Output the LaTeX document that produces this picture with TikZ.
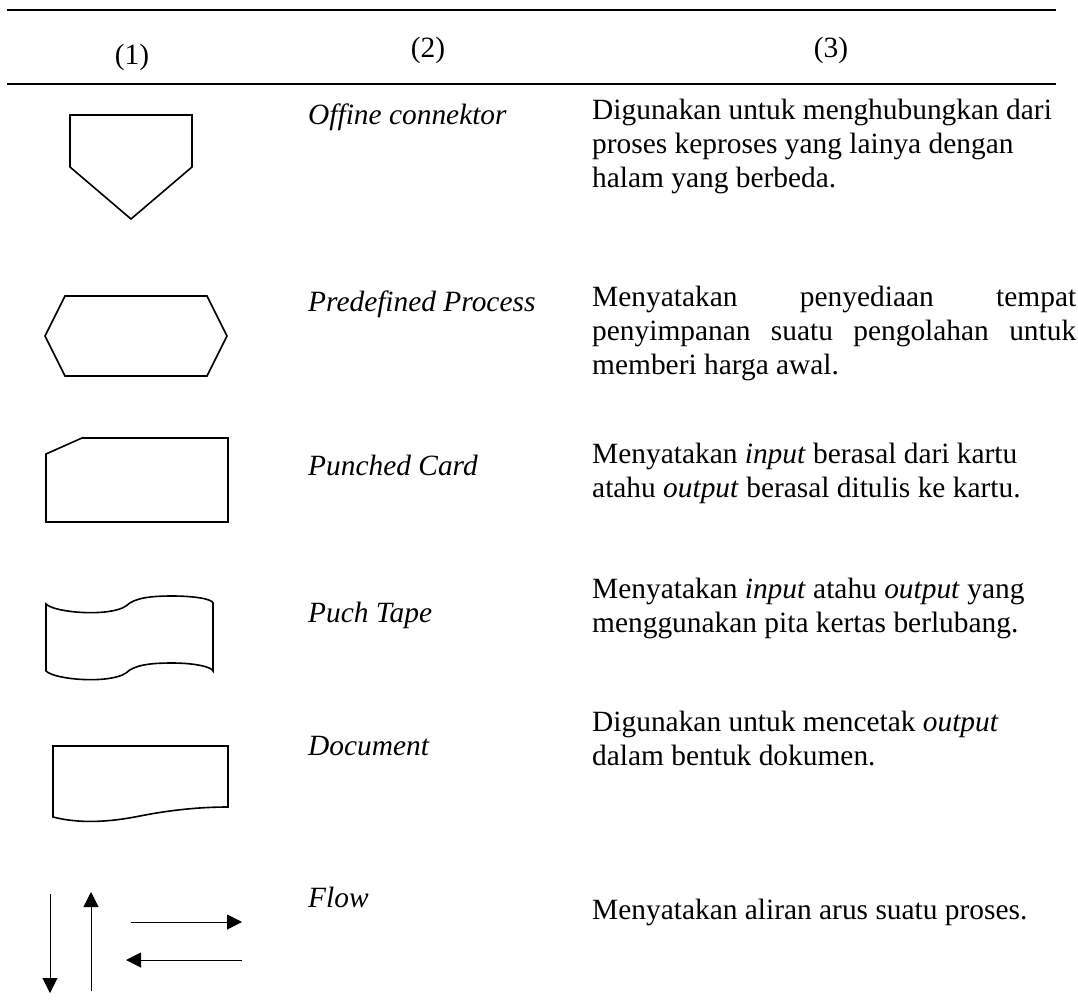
\documentclass[tikz,border=0pt]{standalone}
\usepackage{fontspec}
\setmainfont{Liberation Serif}
\usetikzlibrary{arrows.meta}
\newcommand\bodyfont{\fontsize{29.4}{34}\selectfont}
\newcommand\desctext[1]{\parbox[t]{484pt}{\bodyfont\raggedright #1}}
\newcommand\fillline[1]{\makebox[\linewidth][s]{#1}}
\begin{document}
\begin{tikzpicture}[x=1pt,y=-1pt,
  rulestyle/.style={line width=2pt},
  head/.style={anchor=base, inner sep=0pt, font=\bodyfont},
  symname/.style={anchor=base west, inner sep=0pt, font=\bodyfont\itshape},
  desc/.style={anchor=base west, inner sep=0pt},
  symbol/.style={line width=1.6pt, line join=miter},
  flowarrow/.style={line width=1pt, -{Triangle[length=15pt,width=15pt]}}]
\useasboundingbox (0,0) rectangle (1078,1003);

% table rules
\coordinate (r1a) at (7,10);   \coordinate (r1b) at (1056,10);
\coordinate (r2a) at (7,84);   \coordinate (r2b) at (1056,84);
\draw[rulestyle] (r1a) -- (r1b);
\draw[rulestyle] (r2a) -- (r2b);

% column headers
\node[head] (h1) at (132,65) {(1)};
\node[head] (h2) at (428,58) {(2)};
\node[head] (h3) at (831,58) {(3)};

% off-page connector
\draw[symbol] (70,115) -- (192,115) -- (192,167) -- (131,219) -- (70,167) -- cycle;
\node[symname] (n1) at (308,125) {Offine connektor};
\node[desc] (d1) at (592,120) {\desctext{Digunakan untuk menghubungkan dari\\
  proses keproses yang lainya dengan\\ halam yang berbeda.}};

% predefined process
\draw[symbol] (65,296) -- (207,296) -- (227,336) -- (207,376) -- (65,376) -- (45,336) -- cycle;
\node[symname] (n2) at (308,311) {Predefined Process};
\node[desc] (d2) at (592,306.5) {\desctext{\fillline{Menyatakan penyediaan tempat}\\
  \fillline{penyimpanan suatu pengolahan untuk}\\ memberi harga awal.}};

% punched card
\draw[symbol] (46,454) -- (82,438) -- (228,438) -- (228,522) -- (46,522) -- cycle;
\node[symname] (n3) at (308,475) {Punched Card};
\node[desc] (d3) at (592,463.5) {\desctext{Menyatakan \textit{input} berasal dari kartu\\
  atahu \textit{output} berasal ditulis ke kartu.}};

% punched tape
\draw[symbol] (46,604) .. controls (55,613) and (110,617) .. (126,606)
  .. controls (134,598) and (150,596) .. (172,596)
  .. controls (195,596) and (212,599) .. (213,603)
  -- (213,671)
  .. controls (212,667) and (195,663) .. (172,663)
  .. controls (150,663) and (134,665) .. (126,673)
  .. controls (110,684) and (55,680) .. (46,671) -- cycle;
\node[symname] (n4) at (308,622) {Puch Tape};
\node[desc] (d4) at (592,598.5) {\desctext{Menyatakan \textit{input} atahu \textit{output} yang\\
  menggunakan pita kertas berlubang.}};

% document
\draw[symbol] (53,746) -- (228,746) -- (228,807)
  .. controls (200,807) and (170,810) .. (140,816)
  .. controls (110,822) and (80,824) .. (53,817) -- cycle;
\node[symname] (n5) at (308,755) {Document};
\node[desc] (d5) at (592,731) {\desctext{Digunakan untuk mencetak \textit{output}\\
  dalam bentuk dokumen.}};

% flow arrows
\coordinate (fa1) at (50,894);  \coordinate (fb1) at (50,993);
\coordinate (fa2) at (91,991);  \coordinate (fb2) at (91,892);
\coordinate (fa3) at (131,922); \coordinate (fb3) at (242,922);
\coordinate (fa4) at (242,960); \coordinate (fb4) at (126,960);
\draw[flowarrow] (fa1) -- (fb1);
\draw[flowarrow] (fa2) -- (fb2);
\draw[flowarrow] (fa3) -- (fb3);
\draw[flowarrow] (fa4) -- (fb4);
\node[symname] (n6) at (308,907) {Flow};
\node[desc] (d6) at (592,919.3) {\desctext{Menyatakan aliran arus suatu proses.}};
\end{tikzpicture}
\end{document}
